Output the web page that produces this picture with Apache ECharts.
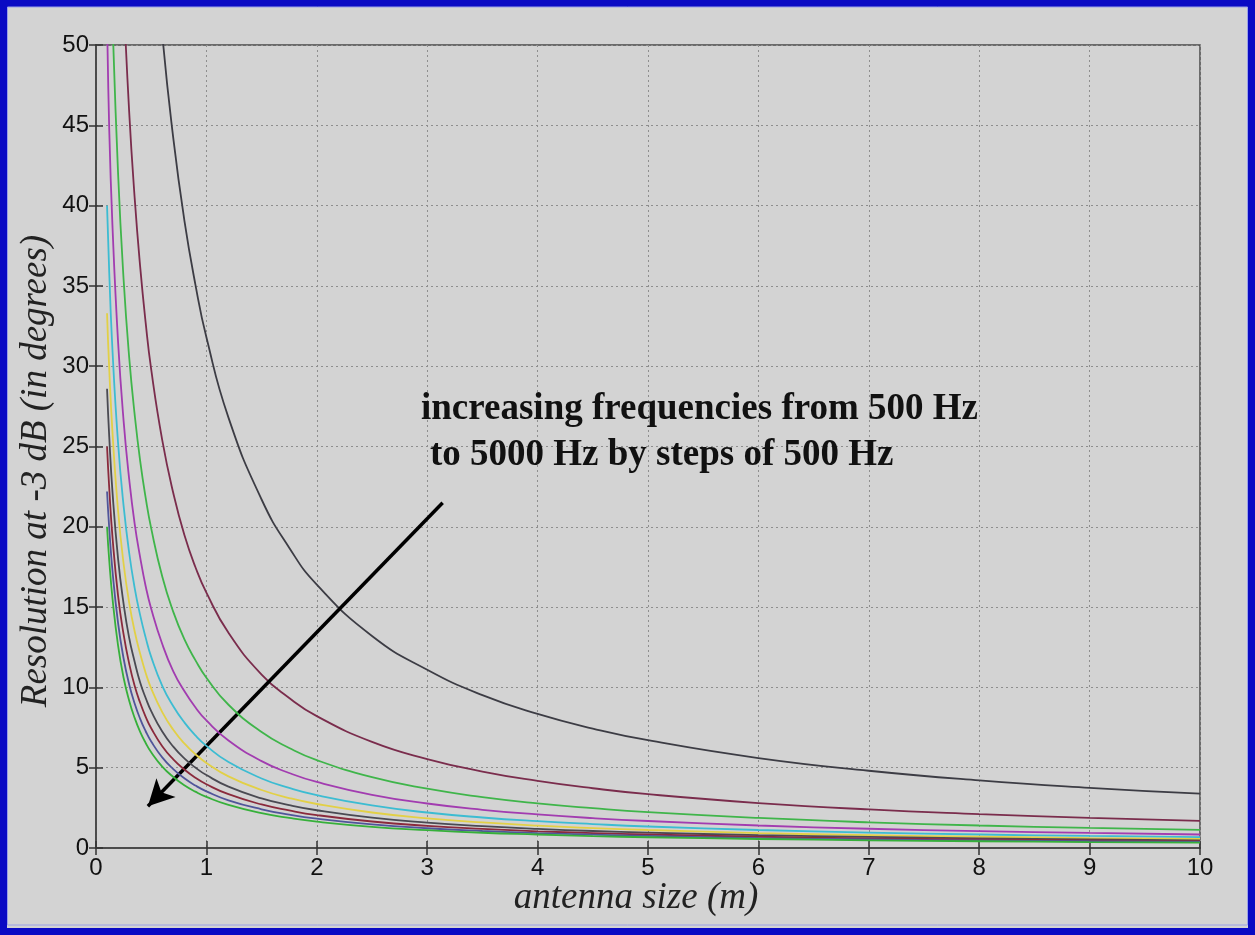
<!DOCTYPE html>
<html>
<head>
<meta charset="utf-8">
<script src="https://cdn.jsdelivr.net/npm/echarts@6/dist/echarts.min.js"></script>
<style>
html,body{margin:0;padding:0;background:#d3d3d3;}
#chart{width:1255px;height:935px;}
</style>
</head>
<body>
<div id="chart"></div>
<script>
// antenna size (m)
const xs = [0.1, 0.12, 0.15, 0.2, 0.25, 0.3, 0.35, 0.4, 0.45, 0.5, 0.6, 0.7, 0.8, 0.9, 1.0, 1.2, 1.5, 1.75, 2, 2.5, 3, 3.5, 4, 4.5, 5, 6, 7, 8, 9, 10];
// resolution at -3 dB (degrees), one array per frequency
const f500  = [null, null, null, null, null, null, null, null, null, 59.6, 50.7, 44.2, 39.1, 35.1, 31.8, 26.8, 21.7, 18.7, 16.4, 13.2, 11.1, 9.52, 8.35, 7.44, 6.71, 5.60, 4.81, 4.21, 3.75, 3.38];
const f1000 = [null, null, null, null, 53.1, 45.9, 40.5, 36.2, 32.7, 29.8, 25.4, 22.1, 19.5, 17.5, 15.9, 13.4, 10.8, 9.34, 8.21, 6.61, 5.54, 4.76, 4.18, 3.72, 3.35, 2.80, 2.40, 2.11, 1.87, 1.69];
const f1500 = [null, null, 51.5, 42.0, 35.4, 30.6, 27.0, 24.1, 21.8, 19.9, 16.9, 14.7, 13.0, 11.7, 10.6, 8.92, 7.22, 6.23, 5.47, 4.41, 3.69, 3.17, 2.78, 2.48, 2.23, 1.87, 1.60, 1.40, 1.25, 1.13];
const f2000 = [52.0, 44.7, 38.6, 31.5, 26.6, 23.0, 20.2, 18.1, 16.3, 14.9, 12.7, 11.0, 9.77, 8.76, 7.94, 6.69, 5.41, 4.67, 4.11, 3.31, 2.77, 2.38, 2.09, 1.86, 1.68, 1.40, 1.20, 1.05, 0.94, 0.84];
const f2500 = [40.0, 35.8, 30.9, 25.2, 21.3, 18.4, 16.2, 14.5, 13.1, 11.9, 10.1, 8.83, 7.82, 7.01, 6.36, 5.35, 4.33, 3.74, 3.29, 2.65, 2.21, 1.90, 1.67, 1.49, 1.34, 1.12, 0.96, 0.84, 0.75, 0.68];
const f3000 = [33.3, 29.8, 25.8, 21.0, 17.7, 15.3, 13.5, 12.1, 10.9, 9.94, 8.46, 7.36, 6.51, 5.84, 5.30, 4.46, 3.61, 3.11, 2.74, 2.21, 1.85, 1.59, 1.39, 1.24, 1.12, 0.93, 0.80, 0.70, 0.62, 0.56];
const f3500 = [28.6, 25.6, 22.1, 18.0, 15.2, 13.1, 11.6, 10.3, 9.34, 8.52, 7.25, 6.31, 5.58, 5.01, 4.54, 3.82, 3.09, 2.67, 2.35, 1.89, 1.58, 1.36, 1.19, 1.06, 0.96, 0.80, 0.69, 0.60, 0.54, 0.48];
const f4000 = [25.0, 22.4, 19.3, 15.7, 13.3, 11.5, 10.1, 9.04, 8.17, 7.46, 6.34, 5.52, 4.89, 4.38, 3.97, 3.35, 2.71, 2.34, 2.05, 1.65, 1.38, 1.19, 1.04, 0.93, 0.84, 0.70, 0.60, 0.53, 0.47, 0.42];
const f4500 = [22.2, 19.9, 17.2, 14.0, 11.8, 10.2, 9.0, 8.04, 7.27, 6.63, 5.64, 4.91, 4.34, 3.89, 3.53, 2.97, 2.41, 2.08, 1.83, 1.47, 1.23, 1.06, 0.93, 0.83, 0.75, 0.62, 0.53, 0.47, 0.42, 0.38];
const f5000 = [20.0, 17.9, 15.5, 12.6, 10.6, 9.19, 8.1, 7.23, 6.54, 5.96, 5.07, 4.42, 3.91, 3.51, 3.18, 2.68, 2.17, 1.87, 1.64, 1.32, 1.11, 0.95, 0.84, 0.74, 0.67, 0.56, 0.48, 0.42, 0.37, 0.34];

const seriesNames = ['500 Hz','1000 Hz','1500 Hz','2000 Hz','2500 Hz','3000 Hz','3500 Hz','4000 Hz','4500 Hz','5000 Hz'];
const seriesValues = [f500, f1000, f1500, f2000, f2500, f3000, f3500, f4000, f4500, f5000];
const seriesColors = ['#3c3c44','#7a2c4c','#3fb54a','#a23cb0','#3cbcd2','#e2d046','#4a4a52','#8a2a3c','#50559a','#36b03a'];

const xTicks = [0,1,2,3,4,5,6,7,8,9,10];
const yTicks = [0,5,10,15,20,25,30,35,40,45,50];

// annotation arrow (data coordinates)
const arrowStart = [3.14, 21.5];
const arrowEnd = [0.47, 2.6];

const chart = echarts.init(document.getElementById('chart'), null, {renderer:'canvas'});

const series = seriesValues.map((vals, k) => ({
  name: seriesNames[k],
  type: 'line',
  data: xs.map((x, i) => [x, vals[i]]),
  showSymbol: false,
  smooth: 0.5,
  clip: true,
  connectNulls: false,
  lineStyle: {color: seriesColors[k], width: 1.8},
  itemStyle: {color: seriesColors[k]},
  z: 3 + k,
  silent: true
}));

series.push({
  type: 'line',
  data: [],
  silent: true,
  z: 20,
  markLine: {
    silent: true,
    symbol: ['none', 'arrow'],
    symbolSize: [20, 26],
    label: {show: false},
    lineStyle: {color: '#000', width: 3.5, type: 'solid'},
    data: [[{coord: arrowStart}, {coord: arrowEnd}]]
  }
});

const tickFont = {fontFamily: 'Liberation Sans, Arial, sans-serif', fontSize: 24, color: '#111'};

chart.setOption({
  backgroundColor: '#d3d3d3',
  animation: false,
  grid: {left: 96, right: 55, top: 45, bottom: 87, show: true, borderColor: '#4a4a4a', borderWidth: 1.5, backgroundColor: 'transparent'},
  xAxis: [{
    type: 'value', min: 0, max: 10, interval: 1,
    axisLine: {show: true, onZero: false, lineStyle: {color: '#4a4a4a', width: 1.5}},
    axisTick: {show: true, inside: true, length: 7, lineStyle: {color: '#333', width: 1.5}},
    axisLabel: Object.assign({margin: 8, formatter: v => xTicks.includes(v) ? String(v) : ''}, tickFont),
    splitLine: {show: true, lineStyle: {color: '#8e8e8e', type: [2, 3], width: 1}}
  }, {
    type: 'value', min: 0, max: 10, interval: 1, position: 'top',
    axisLine: {show: true, lineStyle: {color: '#4a4a4a', width: 1.5}},
    axisTick: {show: true, inside: true, length: 7, lineStyle: {color: '#333', width: 1.5}},
    axisLabel: {show: false}, splitLine: {show: false}
  }],
  yAxis: [{
    type: 'value', min: 0, max: 50, interval: 5,
    axisLine: {show: true, onZero: false, lineStyle: {color: '#4a4a4a', width: 1.5}},
    axisTick: {show: true, inside: true, length: 7, lineStyle: {color: '#333', width: 1.5}},
    axisLabel: Object.assign({margin: 7, formatter: v => yTicks.includes(v) ? String(v) : ''}, tickFont),
    splitLine: {show: true, lineStyle: {color: '#8e8e8e', type: [2, 3], width: 1}}
  }, {
    type: 'value', min: 0, max: 50, interval: 5, position: 'right',
    axisLine: {show: true, lineStyle: {color: '#4a4a4a', width: 1.5}},
    axisTick: {show: true, inside: true, length: 7, lineStyle: {color: '#333', width: 1.5}},
    axisLabel: {show: false}, splitLine: {show: false}
  }],
  series: series,
  graphic: [
    {type: 'rect', silent: true, z: 100, shape: {x: 0, y: 0, width: 1255, height: 935},
     style: {fill: 'none', stroke: '#0a0ac4', lineWidth: 14}},
    {type: 'rect', silent: true, z: 100, shape: {x: 7.5, y: 7, width: 1240, height: 918},
     style: {fill: 'none', stroke: '#9aa0e8', lineWidth: 1}},
    {type: 'text', silent: true, z: 50, x: 421, y: 409,
     style: {text: 'increasing frequencies from 500 Hz', font: 'bold 37px "Liberation Serif", "Times New Roman", serif', fill: '#111', textAlign: 'left', textVerticalAlign: 'middle'}},
    {type: 'text', silent: true, z: 50, x: 430, y: 455,
     style: {text: 'to 5000 Hz by steps of 500 Hz', font: 'bold 37px "Liberation Serif", "Times New Roman", serif', fill: '#111', textAlign: 'left', textVerticalAlign: 'middle'}},
    {type: 'text', silent: true, z: 50, x: 636, y: 898,
     style: {text: 'antenna size (m)', font: 'italic 37px "Liberation Serif", "Times New Roman", serif', fill: '#222', textAlign: 'center', textVerticalAlign: 'middle'}},
    {type: 'text', silent: true, z: 50, x: 36, y: 471, rotation: Math.PI / 2,
     style: {text: 'Resolution at -3 dB (in degrees)', font: 'italic 37px "Liberation Serif", "Times New Roman", serif', fill: '#222', textAlign: 'center', textVerticalAlign: 'middle'}}
  ]
});
</script>
</body>
</html>
